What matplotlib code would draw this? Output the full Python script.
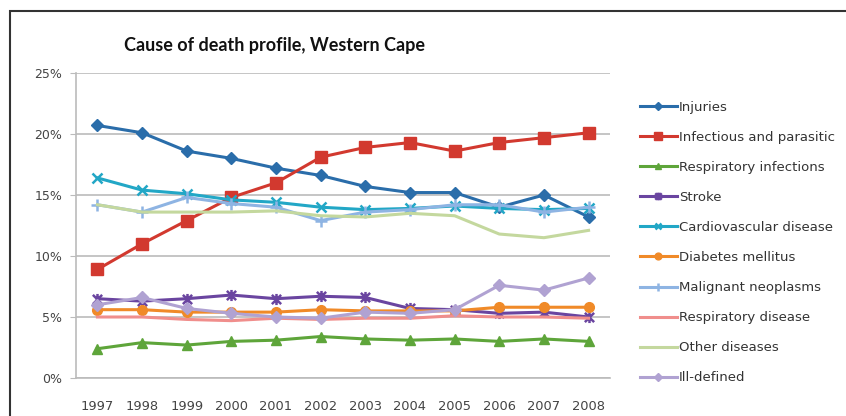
import matplotlib
matplotlib.use("Agg")
import matplotlib.pyplot as plt
from matplotlib.path import Path
from matplotlib.patches import Rectangle
import numpy as np

plt.rcParams['font.family'] = ['DejaVu Sans']

years = ["1997", "1998", "1999", "2000", "2001", "2002", "2003", "2004", "2005", "2006", "2007", "2008"]

injuries = [20.7, 20.1, 18.6, 18.0, 17.2, 16.6, 15.7, 15.2, 15.2, 14.0, 15.0, 13.2]
infectious = [8.9, 11.0, 12.9, 14.8, 16.0, 18.1, 18.9, 19.3, 18.6, 19.3, 19.7, 20.1]
resp_infections = [2.4, 2.9, 2.7, 3.0, 3.1, 3.4, 3.2, 3.1, 3.2, 3.0, 3.2, 3.0]
stroke = [6.5, 6.3, 6.5, 6.8, 6.5, 6.7, 6.6, 5.7, 5.6, 5.3, 5.4, 5.0]
cardio = [16.4, 15.4, 15.1, 14.6, 14.4, 14.0, 13.8, 13.9, 14.1, 13.9, 13.8, 13.9]
diabetes = [5.6, 5.6, 5.4, 5.4, 5.4, 5.6, 5.5, 5.5, 5.5, 5.8, 5.8, 5.8]
malignant = [14.2, 13.6, 14.8, 14.3, 14.0, 12.9, 13.6, 13.8, 14.2, 14.2, 13.6, 14.0]
resp_disease = [5.0, 5.0, 4.8, 4.7, 4.9, 4.8, 4.9, 4.9, 5.1, 5.0, 5.0, 4.9]
other = [14.2, 13.6, 13.6, 13.6, 13.7, 13.3, 13.2, 13.5, 13.3, 11.8, 11.5, 12.1]
ill_defined = [6.0, 6.6, 5.7, 5.3, 5.0, 4.9, 5.4, 5.3, 5.6, 7.6, 7.2, 8.2]

labels = ["Injuries", "Infectious and parasitic", "Respiratory infections", "Stroke",
          "Cardiovascular disease", "Diabetes mellitus", "Malignant neoplasms",
          "Respiratory disease", "Other diseases", "Ill-defined"]
series = [injuries, infectious, resp_infections, stroke, cardio, diabetes,
          malignant, resp_disease, other, ill_defined]
colors = ["#2A6DAA", "#D2392F", "#5EA53A", "#6A45A0", "#22A7C6", "#F08A28",
          "#8EB4E3", "#F08E8C", "#C4D89E", "#B0A2D2"]

# star marker: x plus vertical bar
star = Path([(-1, -1), (1, 1), (-1, 1), (1, -1), (0, -1.2), (0, 1.2)],
            [Path.MOVETO, Path.LINETO, Path.MOVETO, Path.LINETO, Path.MOVETO, Path.LINETO])
markers = ["D", "s", "^", star, "x", "o", "+", None, None, "D"]
msizes = [6, 8, 7, 8, 7, 7, 8, 0, 0, 6]

fig = plt.figure(figsize=(8.46, 4.16), dpi=100)
ax = fig.add_axes([76/846, 1-378/416, (610-76)/846, (378-73)/416])

x = np.arange(len(years))
handles = []
for s, lab, c, m, ms in zip(series, labels, colors, markers, msizes):
    lined = m is star or m in ("x", "+")
    h, = ax.plot(x, s, color=c, lw=2.2, marker=m, markersize=ms,
                 markeredgewidth=1.8 if lined else 1.0,
                 fillstyle='none' if m is star else 'full',
                 markeredgecolor=c, markerfacecolor=c, label=lab, zorder=3)
    handles.append(h)

ax.set_xlim(-0.48, 11.48)
ax.set_ylim(0, 25)
ax.set_yticks([0, 5, 10, 15, 20, 25])
ax.set_yticklabels(["0%", "5%", "10%", "15%", "20%", "25%"])
ax.set_xticks(x)
ax.set_xticklabels(years)
ax.grid(axis='y', color='#BBBBBB', lw=1.2)
ax.set_axisbelow(True)
for sp in ['top', 'right']:
    ax.spines[sp].set_visible(False)
for sp in ['left', 'bottom']:
    ax.spines[sp].set_color('#BBBBBB')
    ax.spines[sp].set_linewidth(1.2)
ax.tick_params(axis='y', length=4, color='#BBBBBB', labelsize=9, labelcolor='#444444', pad=6)
ax.tick_params(axis='x', length=0, labelsize=9.4, labelcolor='#444444', pad=16)

fig.text(274/846, 1-46/416, "Cause of death profile, Western Cape", ha='center', va='center',
         fontsize=13, fontweight='bold', color='#111111', family=['Lato', 'DejaVu Sans'])

leg = fig.legend(handles=handles, loc='upper left', bbox_to_anchor=(640/846, 1-101/416),
                 frameon=False, fontsize=9.5, handlelength=2.8, handletextpad=0.15,
                 labelspacing=1.29, borderaxespad=0, borderpad=0, markerscale=0.7)
for t in leg.get_texts():
    t.set_color('#333333')

fig.patches.append(Rectangle((10/846, -0.2), 2.0, 1-11/416+0.2, transform=fig.transFigure,
                             fill=False, edgecolor='#333333', lw=1.5, zorder=10))

fig.savefig("out.png", dpi=100, facecolor='white')
